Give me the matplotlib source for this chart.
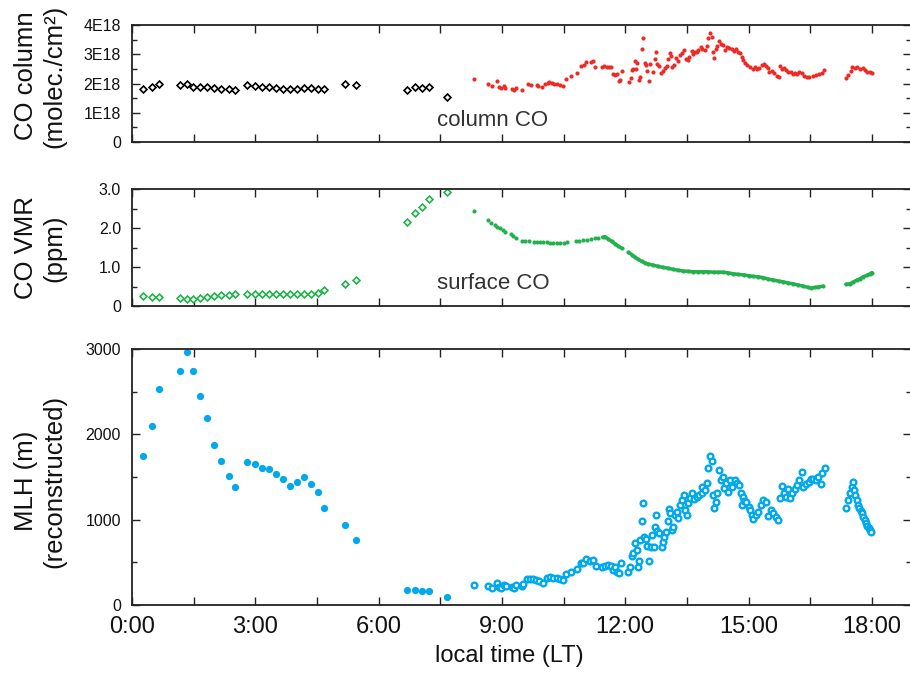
import numpy as np
import matplotlib
matplotlib.use("Agg")
import matplotlib.pyplot as plt
from matplotlib.ticker import MultipleLocator, FuncFormatter

plt.rcParams["font.family"] = ["Liberation Sans", "DejaVu Sans"]

# ---- values (time = decimal hours, local time) ----
# early record: the same 31 sample times in all three panels
t_early = [0.26, 0.48, 0.65, 1.17, 1.35, 1.49, 1.65, 1.83, 2.00, 2.17,
           2.35, 2.51, 2.81, 2.99, 3.16, 3.33, 3.50, 3.67, 3.84, 4.01,
           4.18, 4.36, 4.53, 4.67, 5.19, 5.46, 6.70, 6.89, 7.06, 7.23, 7.66]
col_early = [1.80, 1.87, 1.97, 1.95, 1.99, 1.87, 1.87, 1.87, 1.84, 1.81,
             1.80, 1.79, 1.94, 1.91, 1.88, 1.87, 1.84, 1.82, 1.80, 1.82,
             1.86, 1.84, 1.81, 1.80, 1.99, 1.94, 1.78, 1.87, 1.85, 1.89, 1.55]  # 1E18 molec./cm2
vmr_early = [0.26, 0.24, 0.23, 0.21, 0.19, 0.18, 0.21, 0.24, 0.25, 0.27,
             0.29, 0.31, 0.31, 0.31, 0.30, 0.30, 0.30, 0.30, 0.31, 0.31,
             0.31, 0.32, 0.34, 0.40, 0.57, 0.66, 2.17, 2.38, 2.55, 2.74, 2.92]  # ppm
mlh_early = [1750, 2098, 2531, 2739, 2965, 2739, 2446, 2188, 1879, 1684,
             1516, 1387, 1672, 1653, 1606, 1594, 1539, 1477, 1398, 1445,
             1496, 1414, 1328, 1133, 941, 762, 176, 176, 164, 160, 90]  # m

# column CO (red dots)
t_col = [8.32, 8.65, 8.75, 8.87, 8.94, 8.99, 9.04, 9.08, 9.24, 9.30,
         9.34, 9.49, 9.63, 9.71, 9.85, 9.89, 9.98, 10.05, 10.11, 10.15,
         10.21, 10.27, 10.34, 10.41, 10.49, 10.56, 10.67, 10.82, 10.92, 10.99,
         11.05, 11.16, 11.22, 11.27, 11.44, 11.48, 11.55, 11.61, 11.65, 11.71,
         11.75, 11.79, 11.84, 11.87, 11.91, 12.10, 12.13, 12.16, 12.20, 12.23,
         12.27, 12.29, 12.34, 12.36, 12.40, 12.43, 12.47, 12.50, 12.53, 12.58,
         12.61, 12.68, 12.72, 12.75, 12.78, 12.83, 12.87, 12.91, 12.96, 13.02,
         13.05, 13.08, 13.11, 13.15, 13.18, 13.23, 13.29, 13.33, 13.38, 13.43,
         13.48, 13.52, 13.56, 13.62, 13.66, 13.70, 13.74, 13.78, 13.84, 13.88,
         13.94, 13.98, 14.01, 14.06, 14.10, 14.13, 14.16, 14.20, 14.24, 14.29,
         14.34, 14.39, 14.44, 14.48, 14.53, 14.59, 14.65, 14.70, 14.75, 14.79,
         14.83, 14.87, 14.92, 14.97, 15.04, 15.10, 15.16, 15.21, 15.26, 15.32,
         15.38, 15.43, 15.47, 15.51, 15.56, 15.62, 15.69, 15.73, 15.77, 15.81,
         15.86, 15.91, 15.97, 16.03, 16.08, 16.13, 16.19, 16.24, 16.29, 16.35,
         16.42, 16.48, 16.56, 16.64, 16.72, 16.78, 16.84,
         17.37, 17.43, 17.49, 17.53, 17.59, 17.65, 17.71, 17.78, 17.83, 17.89,
         17.96, 18.00]
col_late = [2.14, 1.98, 1.90, 2.07, 1.88, 1.84, 1.91, 1.86, 1.82, 1.77,
            1.85, 1.78, 1.99, 1.95, 1.94, 1.93, 1.87, 1.99, 2.02, 2.05,
            2.03, 1.98, 1.97, 1.94, 1.91, 2.16, 2.26, 2.37, 2.59, 2.62,
            2.75, 2.74, 2.78, 2.55, 2.55, 2.60, 2.57, 2.56, 2.55, 2.32,
            2.29, 2.32, 2.10, 2.13, 2.44, 2.06, 2.18, 2.46, 2.51, 2.78,
            2.51, 2.69, 2.12, 2.21, 3.17, 3.54, 2.71, 2.63, 2.44, 2.10,
            2.67, 2.38, 2.83, 3.08, 2.68, 2.60, 2.35, 2.43, 2.54, 2.60,
            2.84, 3.04, 2.95, 2.57, 2.62, 2.87, 2.77, 2.97, 3.05, 3.15,
            2.85, 2.80, 2.92, 3.11, 3.01, 3.07, 3.06, 3.15, 3.24, 3.18,
            3.15, 3.29, 3.54, 3.73, 3.58, 3.07, 2.86, 3.18, 3.28, 3.45,
            3.34, 3.32, 3.15, 3.24, 3.22, 3.18, 3.12, 3.18, 3.09, 3.03,
            2.92, 2.80, 2.69, 2.63, 2.55, 2.50, 2.57, 2.50, 2.54, 2.63,
            2.66, 2.61, 2.54, 2.40, 2.43, 2.35, 2.27, 2.23, 2.61, 2.48,
            2.52, 2.46, 2.40, 2.38, 2.31, 2.35, 2.31, 2.40, 2.35, 2.27,
            2.21, 2.23, 2.27, 2.29, 2.31, 2.37, 2.46,
            2.18, 2.29, 2.43, 2.55, 2.52, 2.57, 2.48, 2.54, 2.46, 2.40,
            2.38, 2.36]

# surface CO (green dots)
t_vmr = [8.32, 8.65, 8.73, 8.83, 8.89, 8.95, 9.02, 9.08, 9.21, 9.28,
         9.34, 9.48, 9.56, 9.65, 9.77, 9.85, 9.93, 10.01, 10.09, 10.17,
         10.25, 10.33, 10.41, 10.50, 10.58, 10.80, 10.88, 10.98, 11.06, 11.16,
         11.26, 11.35, 11.45, 11.51, 11.59, 11.67, 11.75, 11.83, 11.92, 12.08,
         12.16, 12.24, 12.32, 12.40, 12.48, 12.56, 12.68, 12.80, 12.93, 13.05,
         13.17, 13.29, 13.41, 13.54, 13.66, 13.78, 13.90, 14.02, 14.15, 14.27,
         14.39, 14.51, 14.63, 14.75, 14.88, 15.00, 15.12, 15.24, 15.36, 15.48,
         15.60, 15.73, 15.85, 15.97, 16.09, 16.21, 16.33, 16.45, 16.53, 16.62,
         16.70, 16.82,
         17.37, 17.47, 17.55, 17.63, 17.71, 17.79, 17.88, 17.96, 18.00]
vmr_late = [2.44, 2.21, 2.14, 2.08, 2.04, 2.00, 1.95, 1.91, 1.85, 1.80,
            1.76, 1.67, 1.66, 1.66, 1.65, 1.65, 1.65, 1.64, 1.64, 1.63,
            1.63, 1.63, 1.62, 1.63, 1.65, 1.66, 1.68, 1.70, 1.70, 1.72,
            1.74, 1.76, 1.77, 1.78, 1.72, 1.66, 1.60, 1.54, 1.48, 1.38,
            1.32, 1.25, 1.20, 1.15, 1.11, 1.08, 1.05, 1.02, 0.99, 0.97,
            0.94, 0.92, 0.90, 0.89, 0.88, 0.88, 0.88, 0.88, 0.87, 0.87,
            0.87, 0.85, 0.83, 0.81, 0.80, 0.78, 0.76, 0.75, 0.73, 0.69,
            0.67, 0.64, 0.62, 0.59, 0.57, 0.54, 0.51, 0.48, 0.46, 0.48,
            0.49, 0.51,
            0.56, 0.57, 0.62, 0.66, 0.70, 0.75, 0.79, 0.83, 0.86]

# mixing layer height (blue open circles)
t_mlh = [8.32, 8.65, 8.75, 8.87, 8.94, 8.99, 9.05, 9.10, 9.24, 9.29,
         9.34, 9.48, 9.52, 9.62, 9.68, 9.75, 9.84, 9.90, 9.99, 10.09,
         10.17, 10.25, 10.33, 10.41, 10.49, 10.56, 10.67, 10.82, 10.92, 10.98,
         11.05, 11.14, 11.22, 11.29, 11.43, 11.51, 11.59, 11.65, 11.70, 11.75,
         11.81, 11.86, 11.90, 12.08, 12.12, 12.17, 12.18, 12.24, 12.28, 12.31,
         12.34, 12.36, 12.41, 12.43, 12.46, 12.50, 12.54, 12.59, 12.62, 12.64,
         12.69, 12.72, 12.75, 12.78, 12.83, 12.89, 12.91, 12.94, 12.99, 13.05,
         13.07, 13.10, 13.15, 13.17, 13.21, 13.25, 13.29, 13.33, 13.37, 13.42,
         13.46, 13.50, 13.54, 13.58, 13.62, 13.67, 13.74, 13.80, 13.86, 13.88,
         13.94, 13.98, 14.02, 14.06, 14.10, 14.13, 14.16, 14.20, 14.24, 14.29,
         14.32, 14.37, 14.41, 14.45, 14.51, 14.55, 14.60, 14.66, 14.71, 14.78,
         14.81, 14.83, 14.86, 14.89, 14.94, 15.00, 15.04, 15.08, 15.12, 15.18,
         15.24, 15.30, 15.36, 15.43, 15.48, 15.54, 15.60, 15.67, 15.72, 15.77,
         15.81, 15.86, 15.91, 15.96, 16.01, 16.06, 16.12, 16.17, 16.23, 16.29,
         16.33, 16.40, 16.46, 16.52, 16.58, 16.64, 16.70, 16.76, 16.80, 16.85,
         17.37, 17.43, 17.47, 17.51, 17.54, 17.57, 17.60, 17.63, 17.67, 17.70,
         17.73, 17.76, 17.79, 17.83, 17.86, 17.89, 17.92, 17.96, 17.99]
mlh_late = [230, 223, 203, 262, 215, 203, 230, 219, 215, 195,
            238, 227, 246, 309, 301, 301, 293, 285, 262, 312,
            332, 320, 312, 301, 293, 363, 387, 426, 488, 496,
            543, 516, 531, 457, 445, 461, 473, 457, 410, 441,
            391, 371, 496, 387, 449, 574, 613, 723, 645, 449,
            520, 762, 985, 1192, 801, 770, 691, 520, 684, 820,
            676, 918, 1055, 871, 848, 684, 742, 801, 859, 985,
            1121, 1082, 879, 910, 1055, 1094, 1016, 1172, 1231, 1289,
            1113, 1055, 1192, 1250, 1317, 1239, 1270, 1289, 1309, 1387,
            1348, 1434, 1602, 1746, 1688, 1289, 1133, 1211, 1309, 1582,
            1465, 1504, 1367, 1426, 1328, 1465, 1387, 1465, 1426, 1406,
            1317, 1172, 1270, 1223, 1211, 1153, 1113, 1055, 1004, 1055,
            1094, 1172, 1231, 1211, 1043, 1113, 1074, 1027, 996, 1250,
            1395, 1317, 1270, 1356, 1250, 1309, 1356, 1406, 1465, 1563,
            1387, 1418, 1445, 1473, 1473, 1465, 1504, 1418, 1543, 1602,
            1137, 1231, 1309, 1387, 1445, 1348, 1289, 1231, 1172, 1133,
            1105, 1082, 1035, 996, 957, 926, 898, 879, 859]

RED = "#ec2a26"
GREEN = "#22b14c"
BLUE = "#00a8ec"
TEXT = "#333333"
AXIS = "#222222"

fig = plt.figure(figsize=(9.1, 6.74), dpi=100)
# right spine sits just past the image edge, as in the reference
L, W = 132 / 910, 779 / 910
XMAX = 779 / 41.1
ax1 = fig.add_axes([L, 1 - 142 / 674, W, 117 / 674])
ax2 = fig.add_axes([L, 1 - 306 / 674, W, 116.7 / 674])
ax3 = fig.add_axes([L, 1 - 605 / 674, W, 256 / 674])


def style(ax, top, step, fmt, show_x):
    ax.set_xlim(0, XMAX)
    ax.set_ylim(0, top)
    ax.xaxis.set_major_locator(MultipleLocator(3))
    ax.xaxis.set_minor_locator(MultipleLocator(1.5))
    ax.yaxis.set_major_locator(MultipleLocator(step))
    ax.yaxis.set_minor_locator(MultipleLocator(step / 2))
    ax.yaxis.set_major_formatter(FuncFormatter(fmt))
    ax.tick_params(which="both", direction="in", top=True, right=True,
                   width=1, color=AXIS)
    ax.tick_params(axis="x", which="both", length=6)
    ax.tick_params(axis="y", which="major", length=6)
    ax.tick_params(axis="y", which="minor", length=3.5)
    ax.tick_params(axis="y", labelsize=11.5, pad=8, labelcolor="#111111")
    ax.tick_params(axis="x", labelsize=17, pad=8, labelcolor="#111111",
                   labelbottom=show_x)
    ax.xaxis.set_major_formatter(FuncFormatter(lambda v, p: f"{int(round(v))}:00"))
    for s in ax.spines.values():
        s.set_linewidth(1.3)
        s.set_color(AXIS)


# 1) column CO
ax1.plot(t_early, col_early, "D", ms=3.5, mfc="white", mec="black", mew=1.2, ls="none")
ax1.plot(t_col, col_late, "o", ms=3.0, color=RED, mew=0, ls="none")
style(ax1, 4, 1, lambda v, p: "0" if v == 0 else f"{int(round(v))}E18", False)
ax1.text(7.42, 0.75, "column CO", fontsize=16, color=TEXT, va="center")

# 2) surface CO  (dense part after ~11:30 reads as a continuous line)
ax2.plot(t_early, vmr_early, "D", ms=3.5, mfc="white", mec=GREEN, mew=1.2, ls="none")
ax2.plot(t_vmr, vmr_late, "o", ms=3.0, color=GREEN, mew=0, ls="none")
tv, vv = np.array(t_vmr), np.array(vmr_late)
keep = tv >= 11.45
tl, vl = tv[keep], vv[keep]
brk = np.where(np.diff(tl) > 0.15)[0] + 1
ax2.plot(np.insert(tl, brk, np.nan), np.insert(vl, brk, np.nan), "-",
         color=GREEN, lw=2.5, solid_capstyle="round")
style(ax2, 3.0, 1.0, lambda v, p: "0" if v == 0 else f"{v:.1f}", False)
ax2.text(7.42, 0.57, "surface CO", fontsize=16, color=TEXT, va="center")

# 3) mixing layer height
ax3.plot(t_early, mlh_early, "o", ms=5.2, color=BLUE, mew=0, ls="none")
ax3.plot(t_mlh, mlh_late, "o", ms=4.1, mfc="white", mec=BLUE, mew=1.7, ls="none")
style(ax3, 3000, 1000, lambda v, p: f"{int(v)}", True)
ax3.set_xlabel("local time (LT)", fontsize=17, color="#111111")
ax3.xaxis.set_label_coords(377 / 779, -0.158)

# y labels, two lines each
for yc, lab in [(76, "CO column\n(molec./cm²)"), (248, "CO VMR\n(ppm)"),
                (481, "MLH (m)\n(reconstructed)")]:
    fig.text(40 / 910, 1 - yc / 674, lab, rotation=90, ha="center", va="center",
             fontsize=18.5, linespacing=1.25, color="#111111", multialignment="center")

fig.savefig("out.png", dpi=100)
